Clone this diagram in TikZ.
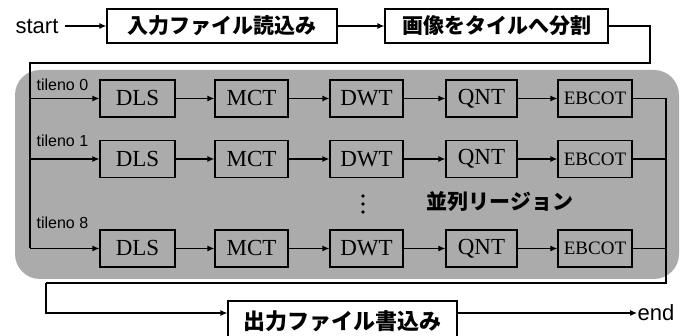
\documentclass[tikz,border=0pt]{standalone}
\usepackage{fontspec}
\setmainfont{Liberation Serif}
\newfontfamily\arialf{Liberation Sans}
\newfontfamily\cjkf{Noto Sans CJK JP}
\usetikzlibrary{arrows.meta}
\begin{document}
\begin{tikzpicture}[x=1pt,y=-1pt,line width=1.2pt,
  topbox/.style={draw, minimum height=34pt, inner sep=0pt, font=\cjkf\bfseries\fontsize{21}{24}\selectfont},
  procbox/.style={draw, minimum height=37pt, inner sep=0pt, font=\fontsize{23}{26}\selectfont},
  arr/.style={-{Latex[length=7pt,width=6pt]}},
  lbl/.style={inner sep=0pt, anchor=west, font=\arialf\fontsize{16}{18}\selectfont},
  term/.style={inner sep=0pt, font=\arialf\fontsize{22}{24}\selectfont},
  region/.style={fill=black!33, rounded corners=25pt},
  dot/.style={fill=black}
]
\useasboundingbox (0,0) rectangle (691,336);
\clip (0,0) rectangle (691,336);

% parallel region background
\fill[region] (15,70) rectangle (679,279);

% top row
\node[term] (start) at (37,27) {start};
\node[topbox, minimum width=230pt] (in) at (222,26) {入力ファイル読込み};
\node[topbox, minimum width=223pt] (split) at (496.5,26) {画像をタイルへ分割};
\draw[arr] (start.east) ++(6pt,-1) coordinate (s0) -- (in.west |- s0);
\draw[arr] (in) -- (split);

\coordinate (tr) at (650,63);
\coordinate (tl) at (30,63);
\coordinate (bl) at (30,248.5);
\draw (split.east) -| (tr) -- (tl) -- (bl);

% rows
\foreach \r/\y in {a/98.5, b/159, c/248.5} {
  \node[procbox, minimum width=75pt] (dls\r) at (137.5,\y) {DLS};
  \node[procbox, minimum width=73pt] (mct\r) at (251.5,\y) {MCT};
  \node[procbox, minimum width=73pt] (dwt\r) at (366.5,\y) {DWT};
  \node[procbox, minimum width=71pt] (qnt\r) at (481.5,\y) {QNT};
  \node[procbox, minimum width=74pt, font=\fontsize{19}{22}\selectfont] (eb\r) at (595,\y) {EBCOT};
  \coordinate (l\r) at (30,\y);
  \coordinate (r\r) at (666,\y);
  \draw[arr] (l\r) -- (dls\r);
  \draw[arr] (dls\r) -- (mct\r);
  \draw[arr] (mct\r) -- (dwt\r);
  \draw[arr] (dwt\r) -- (qnt\r);
  \draw[arr] (qnt\r) -- (eb\r);
  \draw (eb\r) -- (r\r);
}

\node[lbl] (t0) at (36,85) {tileno 0};
\node[lbl] (t1) at (36,141) {tileno 1};
\node[lbl] (t8) at (36,223) {tileno 8};

% vertical ellipsis
\foreach \yy in {196,204,212} \fill[dot] (363,\yy) circle (1.8pt);
\node[font=\cjkf\bfseries\fontsize{21}{24}\selectfont] (par) at (500,202) {並列リージョン};

% bottom
\coordinate (br) at (666,283);
\coordinate (bl2) at (46,283);
\coordinate (oy) at (0,313);
\node[topbox, minimum width=229pt, minimum height=40pt, font=\cjkf\bfseries\fontsize{22}{24}\selectfont] (out) at (342.5,321) {出力ファイル書込み};
\node[term] (end) at (656,313) {end};
\draw (ra) -- (br) -- (bl2);
\draw[arr] (bl2) |- (out.west |- oy);
\draw[arr] (out.east |- oy) -- (end.west);
\end{tikzpicture}
\end{document}
